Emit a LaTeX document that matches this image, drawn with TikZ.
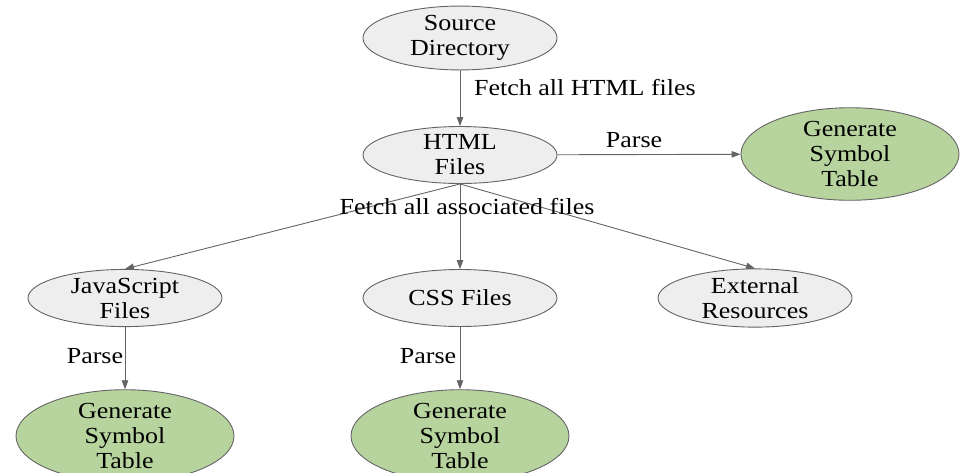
\documentclass[tikz,border=0pt]{standalone}
\usepackage{fontspec}
\setmainfont{Liberation Serif}[FakeStretch=1.13]
\usetikzlibrary{shapes.geometric,arrows.meta}
\definecolor{nodegray}{RGB}{238,238,238}
\definecolor{nodegreen}{RGB}{184,212,158}
\definecolor{edgegray}{RGB}{100,100,100}
\begin{document}
\begin{tikzpicture}[x=1pt,y=-1pt,
  every node/.style={font=\fontsize{23}{25}\selectfont},
  graynode/.style={ellipse, draw=edgegray, line width=0.9pt, fill=nodegray,
    minimum width=194pt, minimum height=57pt, inner sep=0pt, align=center},
  greennode/.style={ellipse, draw=edgegray, line width=0.9pt, fill=nodegreen,
    minimum width=218pt, minimum height=84pt, inner sep=0pt, align=center},
  flow/.style={draw=edgegray, line width=0.9pt,
    -{Triangle[length=9pt,width=6.5pt]}},
  lbl/.style={inner sep=0pt}]
\useasboundingbox (0,0) rectangle (963,472);

% nodes
\node[graynode] (src) at (460,38) {Source\\Directory};
\node[graynode] (html) at (460,155) {HTML\\Files};
\node[greennode] (gtop) at (850,154) {Generate\\Symbol\\Table};
\node[graynode] (js) at (125,298) {JavaScript\\Files};
\node[graynode] (css) at (460,298) {CSS Files};
\node[graynode] (ext) at (755,298) {External\\Resources};
\node[greennode] (gjs) at (125,436) {Generate\\Symbol\\Table};
\node[greennode] (gcss) at (460,436) {Generate\\Symbol\\Table};

% connectors
\draw[flow] (src) -- (html);
\draw[flow] (html) -- (gtop);
\draw[flow] (html.south) -- (js.north);
\draw[flow] (html) -- (css);
\draw[flow] (html.south) -- (ext.north);
\draw[flow] (js) -- (gjs);
\draw[flow] (css) -- (gcss);

% labels
\node[lbl, anchor=west] (l1) at (474,88) {Fetch all HTML files};
\node[lbl] (l2) at (634,140) {Parse};
\node[lbl] (l3) at (467,207) {Fetch all associated files};
\node[lbl] (l4) at (95,356) {Parse};
\node[lbl] (l5) at (428,356) {Parse};
\end{tikzpicture}
\end{document}
